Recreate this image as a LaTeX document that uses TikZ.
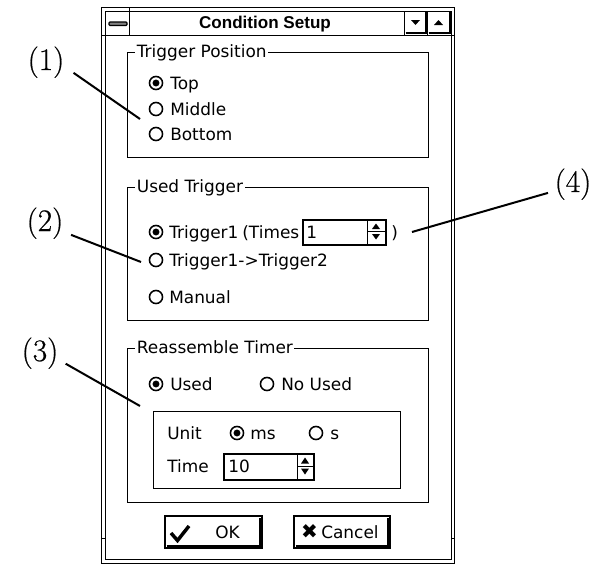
\documentclass[tikz,border=0pt]{standalone}
\usepackage{fontspec}
\newfontfamily\dlg{DejaVu Sans}
\newfontfamily\ttl{Liberation Sans}
\newfontfamily\lblfont[FakeBold=0.6]{Latin Modern Roman}
\begin{document}
\begin{tikzpicture}[x=0.75pt,y=-0.75pt,
  dtext/.style={font=\dlg\fontsize{12.7}{15}\selectfont, inner sep=0pt, anchor=base west},
  radio/.style={circle, draw, line width=1.15pt, minimum size=9.8pt, inner sep=0pt},
  radioon/.style={radio, path picture={\fill (path picture bounding box.center) circle (2.6pt);}},
  grp/.style={draw, line width=0.75pt},
  gtitle/.style={dtext, fill=white, inner xsep=1.2pt, inner ysep=1pt},
  lbl/.style={font=\lblfont\fontsize{23.5}{27}\selectfont, inner sep=1pt, anchor=base},
  leader/.style={line width=1.5pt},
  thin/.style={line width=0.75pt},
  spinbox/.style={draw, line width=1.2pt, inner sep=0pt, anchor=north west},
  btn/.style={draw, line width=1.3pt, inner sep=0pt}
]
\useasboundingbox (0,0) rectangle (593,564);
\fill[white] (0,0) rectangle (593,564);

% window frame
\draw[thin] (101,7) rectangle (454,563);
\draw[thin] (105,11) rectangle (451,559);
\draw[thin] (101,35) -- (454,35);
\draw[thin] (129,7) -- (129,35);
\draw[thin] (101,538) -- (105,538);
\draw[thin] (451,538) -- (454,538);
% minimize bar
\draw[line width=0.9pt, fill=gray, rounded corners=0.8pt] (109,22) rectangle (127,25.5);
% title buttons
\draw[thin] (404,11) -- (404,35);
\draw[thin] (427,11) -- (427,35);
\draw[line width=1.5pt] (405.5,33) -- (425.5,33) -- (425.5,12);
\draw[line width=1.5pt] (428.5,33) -- (449.5,33) -- (449.5,12);
\fill (411,20) -- (420,20) -- (415.5,25) -- cycle;
\fill (434,25) -- (443,25) -- (438.5,20) -- cycle;
\node[font=\ttl\bfseries\fontsize{12.8}{15}\selectfont, inner sep=0pt, anchor=base] (title) at (265,28) {Condition Setup};

% group 1: Trigger Position
\draw[grp] (127,52) rectangle (428,157);
\node[gtitle] (g1) at (135,57) {Trigger Position};
\node[radioon] (rTop) at (156,83) {};
\node[dtext] (tTop) at (170,89) {Top};
\node[radio] (rMid) at (156,109) {};
\node[dtext] (tMid) at (170,115) {Middle};
\node[radio] (rBot) at (156,134) {};
\node[dtext] (tBot) at (170,140) {Bottom};

% group 2: Used Trigger
\draw[grp] (127,187) rectangle (428,320);
\node[gtitle] (g2) at (135,192) {Used Trigger};
\node[radioon] (rT1) at (156,232) {};
\node[dtext] (tT1) at (169,238) {Trigger1};
\node[dtext, anchor=base east] (tTimes) at (299.5,238) {(Times};
\node[spinbox, minimum width=62.25pt, minimum height=18.75pt] (spin1) at (302,219) {};
\node[dtext] (v1) at (306,238) {1};
\draw[thin] (367,219) -- (367,244);
\draw[thin] (367,231.5) -- (385,231.5);
\fill (372,229) -- (380,229) -- (376,223.5) -- cycle;
\fill (372,234) -- (380,234) -- (376,239.5) -- cycle;
\node[dtext] (tParen) at (391,238) {)};
\node[radio] (rT12) at (156,260) {};
\node[dtext] (tT12) at (169,266) {Trigger1->Trigger2};
\node[radio] (rMan) at (156,297) {};
\node[dtext] (tMan) at (169,303) {Manual};

% group 3: Reassemble Timer
\draw[grp] (127,348) rectangle (428,502);
\node[gtitle] (g3) at (135,353) {Reassemble Timer};
\node[radioon] (rUsed) at (156,384) {};
\node[dtext] (tUsed) at (170,390) {Used};
\node[radio] (rNo) at (267,384) {};
\node[dtext] (tNo) at (281,390) {No Used};
\draw[grp] (153,411) rectangle (400,488);
\node[dtext] (tUnit) at (167,439) {Unit};
\node[radioon] (rms) at (237,433) {};
\node[dtext] (tms) at (250,439) {ms};
\node[radio] (rs) at (316,433) {};
\node[dtext] (ts) at (330,439) {s};
\node[dtext] (tTime) at (167,472) {Time};
\node[spinbox, minimum width=67.5pt, minimum height=19.5pt] (spin2) at (223,453) {};
\node[dtext] (v2) at (228,472) {10};
\draw[thin] (297,453) -- (297,479);
\draw[thin] (297,466) -- (313,466);
\fill (301,463.5) -- (309,463.5) -- (305,457.5) -- cycle;
\fill (301,468.5) -- (309,468.5) -- (305,474.5) -- cycle;

% buttons
\node[btn, minimum width=72.75pt, minimum height=24pt] (ok) at (213.5,532) {};
\draw[line width=2pt] (166.5,546.5) -- (260.5,546.5) -- (260.5,517.5);
\draw[line width=2.6pt, line join=miter] (171,533) -- (177.5,540.5) -- (189,526);
\node[dtext] (tok) at (215,538) {OK};
\node[btn, minimum width=72pt, minimum height=24pt] (cancel) at (342,532) {};
\draw[line width=2pt] (295.5,546.5) -- (388.5,546.5) -- (388.5,517.5);
\node[font=\dlg\fontsize{15}{17}\selectfont, inner sep=0pt] (xmark) at (309.5,532) {✖};
\node[dtext] (tcancel) at (321,538) {Cancel};

% callouts
\node[lbl] (l1) at (46,70) {(1)};
\node[lbl] (l2) at (45,231) {(2)};
\node[lbl] (l3) at (40,361) {(3)};
\node[lbl] (l4) at (573,192) {(4)};
\coordinate (c1) at (140,119);
\coordinate (c2) at (141,262);
\coordinate (c3) at (140,406);
\coordinate (c4) at (412,232);
\draw[leader, shorten <=7pt] (l1.-15) -- (c1);
\draw[leader, shorten <=5pt] (l2.-25) -- (c2);
\draw[leader, shorten <=5pt] (l3.-20) -- (c3);
\draw[leader, shorten <=4pt] (l4.200) -- (c4);
\end{tikzpicture}
\end{document}
